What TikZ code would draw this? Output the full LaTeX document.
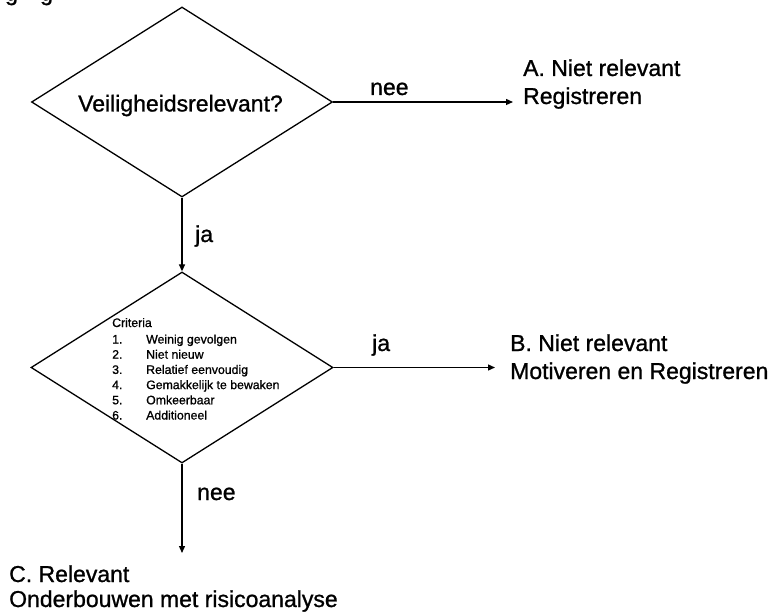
\documentclass[tikz,border=0pt]{standalone}
\usepackage{fontspec}
\setmainfont{Liberation Sans}[BoldFont=Liberation Sans, BoldFeatures={FakeBold=1}]
\usetikzlibrary{shapes.geometric,arrows.meta}
\begin{document}
\begin{tikzpicture}[x=1pt,y=-1pt,
  decision/.style={draw, shape=diamond, line width=1.3pt,
    minimum width=301pt, minimum height=190pt, inner sep=0pt},
  arr/.style={line width=1.3pt, -{Triangle[length=7pt,width=6pt]}},
  big/.style={font=\fontsize{23}{28}\selectfont\bfseries, inner sep=0pt, anchor=base west},
  small/.style={font=\fontsize{12.3}{15}\selectfont\bfseries, inner sep=0pt, anchor=base west},
]
\useasboundingbox (0,0) rectangle (779,612);

% heading letters above the page edge
\node[big] (hdA) at (5,0.5) {g};
\node[big] (hdB) at (40,0.5) {g};

% decisions
\node[decision] (d1) at (182,102) {};
\node[big] (q1) at (78,111.5) {Veiligheidsrelevant?};

\node[decision, minimum width=302pt, minimum height=191pt] (d2) at (182,367.5) {};
\node[small] (crit) at (112,327) {Criteria};
\foreach \n/\txt [count=\i] in {1/Weinig gevolgen, 2/Niet nieuw, 3/Relatief eenvoudig,
    4/Gemakkelijk te bewaken, 5/Omkeerbaar, 6/Additioneel} {
  \node[small] (num\i) at (112,{343.5+15.2*(\i-1)}) {\n.};
  \node[small] (item\i) at (146,{343.5+15.2*(\i-1)}) {\txt};
}

% outcomes
\node[big] (a1) at (523,76) {A. Niet relevant};
\node[big] (a2) at (523,104) {Registreren};
\node[big] (b1) at (510,351) {B. Niet relevant};
\node[big] (b2) at (510,379) {Motiveren en Registreren};
\node[big] (c1) at (9,582) {C. Relevant};
\node[big] (c2) at (9,607) {Onderbouwen met risicoanalyse};

% connector ends
\coordinate (tA) at (513,102);
\coordinate (tB) at (495,367.5);
\coordinate (tC) at (182,553);

% connectors
\draw[arr] (d1.east) -- (tA);
\draw[arr] (d1.south) -- (d2.north);
\draw[arr] (d2.east) -- (tB);
\draw[arr] (d2.south) -- (tC);

% connector labels
\node[big] (l1) at (370,95) {nee};
\node[big] (l2) at (195,242) {ja};
\node[big] (l3) at (372,351) {ja};
\node[big] (l4) at (197,500) {nee};
\end{tikzpicture}
\end{document}
